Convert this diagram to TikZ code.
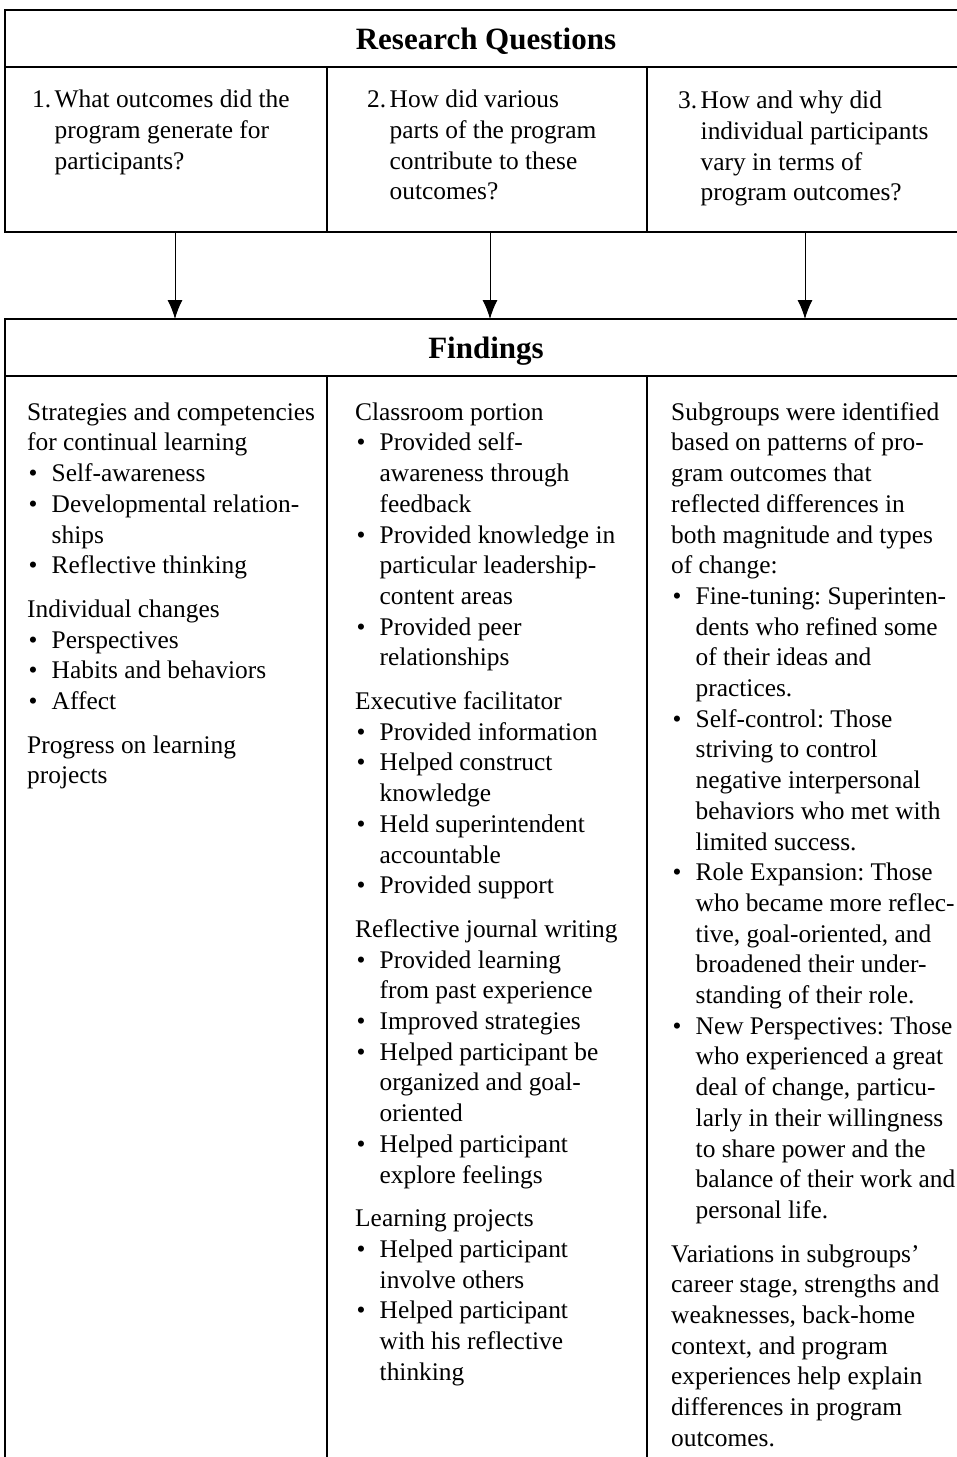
\documentclass[tikz,border=0pt]{standalone}
\usepackage{fontspec}
\setmainfont{Liberation Serif}
\usetikzlibrary{arrows.meta, positioning}
\frenchspacing

\newcommand{\bul}{\makebox[24.5pt][l]{\hspace{1.5pt}\textbullet}}
\newcommand{\ind}{\hspace*{24.5pt}}
\newcommand{\qnum}[1]{\makebox[22.5pt][l]{#1}}
\newcommand{\qind}{\hspace*{22.5pt}}

\begin{document}
\begin{tikzpicture}[x=1pt, y=-1pt, >={Latex[length=19pt,width=15pt]},
    cell/.style={draw, line width=2pt, outer sep=0pt, inner sep=0pt, anchor=north west},
    head/.style={cell, minimum width=962pt, minimum height=57pt, text depth=0pt,
      font=\fontsize{31}{36}\selectfont\bfseries},
    txt/.style={inner sep=0pt, align=left, anchor=north west,
      font=\fontsize{25.4}{30.7}\selectfont\frenchspacing}]
    \path[use as bounding box, clip] (0,0) rectangle (957,1457);

    % questions
    \node[head] (rq) at (5,10) {Research Questions};
    \node[cell, minimum width=322pt, minimum height=165pt] (q1) [below right=0pt and 0pt of rq.south west] {};
    \node[cell, minimum width=320pt, minimum height=165pt] (q2) [right=0pt of q1] {};
    \node[cell, minimum width=320pt, minimum height=165pt] (q3) [right=0pt of q2] {};

    \node[txt] (q1t) [below right=19pt and 27pt of q1.north west]
      {\strut\qnum{1.}What outcomes did the\\
       \qind program generate for\\
       \qind participants?};
    \node[txt] (q2t) [below right=19pt and 40pt of q2.north west]
      {\strut\qnum{2.}How did various\\
       \qind parts of the program\\
       \qind contribute to these\\
       \qind outcomes?};
    \node[txt] (q3t) [below right=20pt and 31pt of q3.north west]
      {\strut\qnum{3.}How and why did\\
       \qind individual participants\\
       \qind vary in terms of\\
       \qind program outcomes?};

    % findings
    \node[head] (fnd) [below right=87pt and 0pt of q1.south west] {Findings};
    \node[cell, minimum width=322pt, minimum height=1123pt] (f1) [below right=0pt and 0pt of fnd.south west] {};
    \node[cell, minimum width=320pt, minimum height=1123pt] (f2) [right=0pt of f1] {};
    \node[cell, minimum width=320pt, minimum height=1123pt] (f3) [right=0pt of f2] {};

    \node[txt] (f1t) [below right=22.5pt and 22pt of f1.north west]
      {\strut Strategies and competencies\\
       for continual learning\\
       \bul Self-awareness\\
       \bul Developmental relation-\\
       \ind ships\\
       \bul Reflective thinking\\[13pt]
       Individual changes\\
       \bul Perspectives\\
       \bul Habits and behaviors\\
       \bul Affect\\[13pt]
       Progress on learning\\
       projects};
    \node[txt] (f2t) [below right=22.5pt and 28pt of f2.north west]
      {\strut Classroom portion\\
       \bul Provided self-\\
       \ind awareness through\\
       \ind feedback\\
       \bul Provided knowledge in\\
       \ind particular leadership-\\
       \ind content areas\\
       \bul Provided peer\\
       \ind relationships\\[13pt]
       Executive facilitator\\
       \bul Provided information\\
       \bul Helped construct\\
       \ind knowledge\\
       \bul Held superintendent\\
       \ind accountable\\
       \bul Provided support\\[13pt]
       Reflective journal writing\\
       \bul Provided learning\\
       \ind from past experience\\
       \bul Improved strategies\\
       \bul Helped participant be\\
       \ind organized and goal-\\
       \ind oriented\\
       \bul Helped participant\\
       \ind explore feelings\\[13pt]
       Learning projects\\
       \bul Helped participant\\
       \ind involve others\\
       \bul Helped participant\\
       \ind with his reflective\\
       \ind thinking};
    \node[txt] (f3t) [below right=22.5pt and 24pt of f3.north west]
      {\strut Subgroups were identified\\
       based on patterns of pro-\\
       gram outcomes that\\
       reflected differences in\\
       both magnitude and types\\
       of change:\\
       \bul Fine-tuning: Superinten-\\
       \ind dents who refined some\\
       \ind of their ideas and\\
       \ind practices.\\
       \bul Self-control: Those\\
       \ind striving to control\\
       \ind negative interpersonal\\
       \ind behaviors who met with\\
       \ind limited success.\\
       \bul Role Expansion: Those\\
       \ind who became more reflec-\\
       \ind tive, goal-oriented, and\\
       \ind broadened their under-\\
       \ind standing of their role.\\
       \bul New Perspectives: Those\\
       \ind who experienced a great\\
       \ind deal of change, particu-\\
       \ind larly in their willingness\\
       \ind to share power and the\\
       \ind balance of their work and\\
       \ind personal life.\\[13pt]
       Variations in subgroups’\\
       career stage, strengths and\\
       weaknesses, back-home\\
       context, and program\\
       experiences help explain\\
       differences in program\\
       outcomes.};

    % arrows
    \draw[->, line width=1pt] ([xshift=9pt]q1.south) -- ([xshift=9pt]q1.south |- fnd.north);
    \draw[->, line width=1pt] ([xshift=3pt]q2.south) -- ([xshift=3pt]q2.south |- fnd.north);
    \draw[->, line width=1pt] ([xshift=-2pt]q3.south) -- ([xshift=-2pt]q3.south |- fnd.north);
\end{tikzpicture}
\end{document}
